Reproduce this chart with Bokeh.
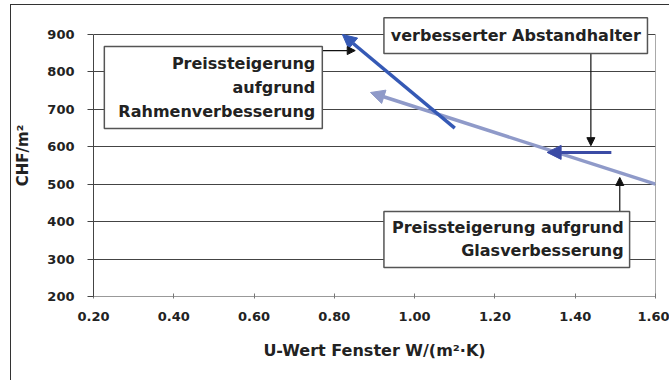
from bokeh.plotting import figure
from bokeh.models import (Range1d, FixedTicker, CustomJSTickFormatter, Arrow, NormalHead,
                          ColumnDataSource, BoxAnnotation, Label)
from bokeh.embed import file_html
from bokeh.resources import INLINE

# --- data ---------------------------------------------------------------
# price (CHF/m2) against window U-value, each measure drawn as an arrow
rahmen_u = [1.10, 0.82]
rahmen_chf = [650, 900]
glas_u = [1.60, 0.89]
glas_chf = [500, 745]
abstand_u = [1.49, 1.33]
abstand_chf = [585, 585]

x_ticks = [0.20, 0.40, 0.60, 0.80, 1.00, 1.20, 1.40, 1.60]
y_ticks = [200, 300, 400, 500, 600, 700, 800, 900]

FONT = "DejaVu Sans"
TXT = "#222222"

# the frame reaches a little above 900 so the top callout can sit over the chart edge
p = figure(width=659, height=376, output_backend="svg", toolbar_location=None,
           x_range=Range1d(0.2, 1.6), y_range=Range1d(200, 953.4),
           min_border_left=78, min_border_right=15, min_border_top=9, min_border_bottom=85,
           margin=(4, 0, 0, 10),
           styles={"border-left": "1px solid #333333", "border-top": "1px solid #333333"})
p.background_fill_color = "white"
p.border_fill_color = "white"
p.outline_line_color = None

# axes
p.xaxis.ticker = FixedTicker(ticks=x_ticks)
p.yaxis.ticker = FixedTicker(ticks=y_ticks)
p.yaxis.bounds = (y_ticks[0], y_ticks[-1])
p.xaxis.formatter = CustomJSTickFormatter(code="return tick.toFixed(2);")
p.xaxis.axis_label = "U-Wert Fenster W/(m²·K)"
p.yaxis.axis_label = "CHF/m²"
for ax in (p.xaxis, p.yaxis):
    ax.major_label_text_font = FONT
    ax.major_label_text_font_style = "bold"
    ax.major_label_text_font_size = "13px"
    ax.major_label_text_color = TXT
    ax.axis_label_text_font = FONT
    ax.axis_label_text_font_style = "bold"
    ax.axis_label_text_color = TXT
    ax.minor_tick_line_color = None
p.xaxis.axis_label_text_font_size = "16px"
p.yaxis.axis_label_text_font_size = "15px"
p.xaxis.axis_line_color = "#999999"
p.xaxis.major_tick_line_color = "#777777"
p.xaxis.major_tick_in = 3
p.xaxis.major_tick_out = 2
p.xaxis.major_label_standoff = 13
p.xaxis.axis_label_standoff = 17
p.yaxis.axis_line_color = "#444444"
p.yaxis.major_tick_line_color = "#444444"
p.yaxis.major_tick_in = 0
p.yaxis.major_tick_out = 6
p.yaxis.major_label_standoff = 13
p.yaxis.axis_label_standoff = 12

p.xgrid.grid_line_color = None
p.ygrid.grid_line_color = "#444444"
p.ygrid.grid_line_width = 1

# right-hand edge of the plot area, from the lowest to the highest tick
p.segment(x0=[x_ticks[-1]], y0=[y_ticks[0]], x1=[x_ticks[-1]], y1=[y_ticks[-1]],
          line_color="#555555", line_width=1)

# --- measure arrows -------------------------------------------------------
def measure(us, chfs, color, width):
    src = ColumnDataSource(dict(x0=[us[0]], y0=[chfs[0]], x1=[us[1]], y1=[chfs[1]]))
    p.add_layout(Arrow(source=src, x_start="x0", y_start="y0", x_end="x1", y_end="y1",
                       line_color=color, line_width=width,
                       end=NormalHead(size=14, fill_color=color, line_color=color, line_width=1)))

measure(glas_u, glas_chf, "#8f9ac9", 3.5)
measure(rahmen_u, rahmen_chf, "#3559b5", 3.5)
measure(abstand_u, abstand_chf, "#3b4ba5", 3)

# --- callout boxes -------------------------------------------------------
def callout_box(left, right, top, bottom):
    p.add_layout(BoxAnnotation(left=left, right=right, top=top, bottom=bottom,
                               fill_color="white", fill_alpha=1.0,
                               line_color="#555555", line_alpha=1.0, line_width=1.5))

def callout_text(x, y, txt, align):
    p.add_layout(Label(x=x, y=y, text=txt, text_font=FONT, text_font_style="bold",
                       text_font_size="16px", text_color=TXT,
                       text_align=align, text_baseline="middle"))

def pointer(x0, y0, x1, y1):
    p.add_layout(Arrow(x_start=x0, y_start=y0, x_end=x1, y_end=y1,
                       line_color="#111111", line_width=1.2,
                       end=NormalHead(size=8, fill_color="#111111", line_color="#111111")))

# frame improvement
pointer(0.77, 857, 0.852, 857)
callout_box(0.227, 0.770, 868, 649)
callout_text(0.7525, 822, "Preissteigerung", "right")
callout_text(0.7525, 758, "aufgrund", "right")
callout_text(0.7525, 694, "Rahmenverbesserung", "right")

# spacer improvement
pointer(1.439, 849, 1.439, 603)
callout_box(0.9235, 1.580, 945, 849)
callout_text(1.252, 897, "verbesserter Abstandhalter", "center")

# glazing improvement
pointer(1.511, 427, 1.511, 518)
callout_box(0.9235, 1.5355, 427, 277.5)
callout_text(1.5206, 384, "Preissteigerung aufgrund", "right")
callout_text(1.5206, 323, "Glasverbesserung", "right")

open("out.html", "w").write(file_html(p, INLINE))
